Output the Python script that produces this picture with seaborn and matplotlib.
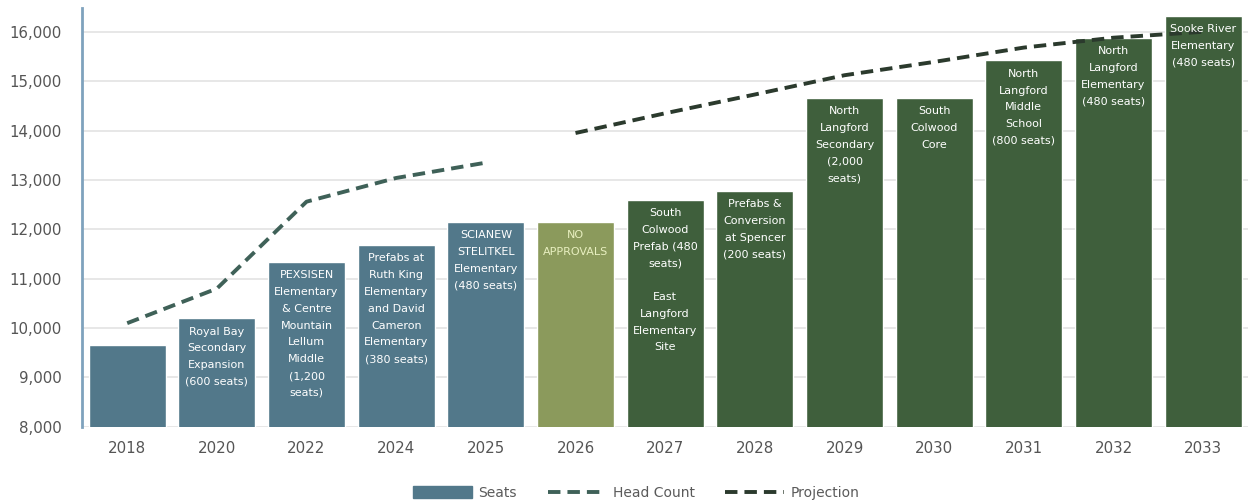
import matplotlib
matplotlib.use("Agg")
import matplotlib.pyplot as plt
import seaborn as sns
import pandas as pd
from matplotlib.patches import Patch
from matplotlib.lines import Line2D

years = ["2018", "2020", "2022", "2024", "2025", "2026", "2027", "2028",
         "2029", "2030", "2031", "2032", "2033"]
seats = [9650, 10200, 11340, 11680, 12150, 12150, 12600, 12780,
         14660, 14660, 15420, 15880, 16320]
head_years = ["2018", "2020", "2022", "2024", "2025"]
head_count = [10100, 10800, 12560, 13040, 13350]
proj_years = ["2026", "2027", "2028", "2029", "2030", "2031", "2032", "2033"]
projection = [13950, 14350, 14730, 15120, 15390, 15680, 15880, 16000]
bar_labels = [
    "",
    "Royal Bay\nSecondary\nExpansion\n(600 seats)",
    "PEXSISEN\nElementary\n& Centre\nMountain\nLellum\nMiddle\n(1,200\nseats)",
    "Prefabs at\nRuth King\nElementary\nand David\nCameron\nElementary\n(380 seats)",
    "SCIANEW\nSTELITKEL\nElementary\n(480 seats)",
    "NO\nAPPROVALS",
    "South\nColwood\nPrefab (480\nseats)\n\nEast\nLangford\nElementary\nSite",
    "Prefabs &\nConversion\nat Spencer\n(200 seats)",
    "North\nLangford\nSecondary\n(2,000\nseats)",
    "South\nColwood\nCore",
    "North\nLangford\nMiddle\nSchool\n(800 seats)",
    "North\nLangford\nElementary\n(480 seats)",
    "Sooke River\nElementary\n(480 seats)",
]

SLATE = "#52788a"
OLIVE = "#8b9a5c"
GREEN = "#3f5f3c"
HEAD_C = "#3f6158"
PROJ_C = "#2b3a2d"
bar_colors = [SLATE] * 5 + [OLIVE] + [GREEN] * 7

sns.set_theme(style="white")
plt.rcParams["font.family"] = ["DejaVu Sans"]

fig = plt.figure(figsize=(12.48, 5.04), dpi=100)
ax = fig.add_axes([0.066, 0.153, 0.934, 0.831])

df = pd.DataFrame({"year": years, "seats": seats})
sns.barplot(data=df, x="year", y="seats", hue="year", palette=bar_colors,
            order=years, legend=False, width=0.86, saturation=1, ax=ax, zorder=2)

pos = {y: i for i, y in enumerate(years)}
hdf = pd.DataFrame({"x": [pos[y] for y in head_years], "v": head_count})
pdf = pd.DataFrame({"x": [pos[y] for y in proj_years], "v": projection})
sns.lineplot(data=hdf, x="x", y="v", ax=ax, color=HEAD_C, lw=2.8,
             zorder=3).lines[-1].set_dashes((3.2, 1.8))
sns.lineplot(data=pdf, x="x", y="v", ax=ax, color=PROJ_C, lw=2.8,
             zorder=3).lines[-1].set_dashes((3.2, 1.8))

for i, (v, lab) in enumerate(zip(seats, bar_labels)):
    if not lab:
        continue
    col = "#e8efc0" if years[i] == "2026" else "white"
    ax.annotate(lab, xy=(i, v), xytext=(0, -6), textcoords="offset points",
                ha="center", va="top", fontsize=8, color=col,
                linespacing=1.85, zorder=4)

ax.set_xlim(-0.5, len(years) - 0.5)
ax.set_ylim(8000, 16480)
ax.set_yticks(range(8000, 16001, 1000))
ax.set_yticklabels([f"{t:,}" for t in range(8000, 16001, 1000)])
ax.set_xlabel("")
ax.set_ylabel("")
ax.grid(axis="y", color="#e3e3e3", lw=1.2, zorder=0)
ax.set_axisbelow(True)
for s in ["top", "right", "bottom"]:
    ax.spines[s].set_visible(False)
ax.spines["left"].set_color("#7fa2bd")
ax.spines["left"].set_linewidth(2)
ax.tick_params(axis="y", labelsize=10.8, labelcolor="#555555", length=0, pad=15)
ax.tick_params(axis="x", labelsize=10.8, labelcolor="#555555", length=0, pad=10)

handles = [
    Patch(facecolor=SLATE, edgecolor=SLATE),
    Line2D([0], [0], color=HEAD_C, lw=2.8, dashes=(3.2, 1.8)),
    Line2D([0], [0], color=PROJ_C, lw=2.8, dashes=(3.2, 1.8)),
]
fig.legend(handles, ["Seats", "Head Count", "Projection"], loc="center",
           bbox_to_anchor=(0.51, 0.022), ncol=3, frameon=False, fontsize=10,
           labelcolor="#5a5a5a", handlelength=4.2, handleheight=0.9,
           columnspacing=2.2, handletextpad=0.5)

fig.savefig("out.png", dpi=100)
